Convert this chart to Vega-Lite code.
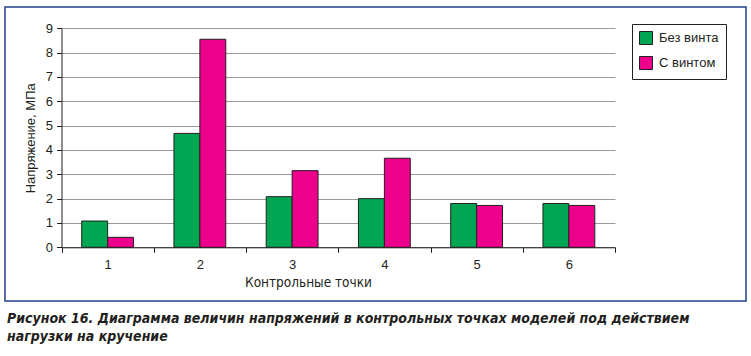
{
  "$schema": "https://vega.github.io/schema/vega-lite/v6.json",
  "autosize": {"type": "none"},
  "padding": {"left": 5, "top": 7, "right": 5, "bottom": 55},
  "width": 741,
  "height": 294,
  "background": "white",
  "title": {
    "text": ["Рисунок 16. Диаграмма величин напряжений в контрольных точках моделей под действием", "нагрузки на кручение"],
    "orient": "bottom",
    "anchor": "start",
    "frame": "group",
    "offset": 11,
    "dx": 2,
    "font": "'Liberation Sans Narrow', 'DejaVu Sans Condensed', 'Liberation Sans', sans-serif",
    "fontSize": 14,
    "fontWeight": "bold",
    "fontStyle": "italic",
    "color": "#231f20",
    "lineHeight": 18
  },
  "config": {
    "view": {"stroke": "#223f8a", "strokeWidth": 1.5},
    "font": "Liberation Sans"
  },
  "data": {
    "values": [
      {"point": "1", "series": "Без винта", "value": 1.08},
      {"point": "1", "series": "С винтом", "value": 0.41},
      {"point": "2", "series": "Без винта", "value": 4.68},
      {"point": "2", "series": "С винтом", "value": 8.55},
      {"point": "3", "series": "Без винта", "value": 2.08},
      {"point": "3", "series": "С винтом", "value": 3.15},
      {"point": "4", "series": "Без винта", "value": 2.0},
      {"point": "4", "series": "С винтом", "value": 3.66},
      {"point": "5", "series": "Без винта", "value": 1.8},
      {"point": "5", "series": "С винтом", "value": 1.72},
      {"point": "6", "series": "Без винта", "value": 1.8},
      {"point": "6", "series": "С винтом", "value": 1.72}
    ]
  },
  "mark": {"type": "bar", "stroke": "#231f20", "strokeWidth": 1},
  "encoding": {
    "x": {
      "field": "point",
      "type": "nominal",
      "scale": {"range": [56.5, 610], "paddingInner": 0, "paddingOuter": 0},
      "axis": {
        "title": "Контрольные точки",
        "titleFont": "'Liberation Sans Narrow', 'DejaVu Sans Condensed', 'Liberation Sans', sans-serif",
        "titleFontSize": 13.5,
        "titleFontWeight": "normal",
        "titleColor": "#231f20",
        "titlePadding": 4,
        "titleX": 303,
        "titleAlign": "center",
        "offset": -53.7,
        "labelAngle": 0,
        "labelFontSize": 13,
        "labelColor": "#231f20",
        "labelPadding": 6,
        "tickBand": "extent",
        "tickColor": "#231f20",
        "tickSize": 5,
        "domainColor": "#231f20",
        "grid": false
      }
    },
    "xOffset": {
      "field": "series",
      "type": "nominal",
      "scale": {"paddingInner": 0, "paddingOuter": 0.78}
    },
    "y": {
      "field": "value",
      "type": "quantitative",
      "scale": {"domain": [0, 9], "range": [240.3, 21.3], "nice": false},
      "axis": {
        "title": "Напряжение, МПа",
        "titleFont": "Liberation Sans",
        "titleFontSize": 13,
        "titleFontWeight": "normal",
        "titleColor": "#231f20",
        "titlePadding": 8,
        "offset": -56.5,
        "values": [0, 1, 2, 3, 4, 5, 6, 7, 8, 9],
        "labelFontSize": 13,
        "labelColor": "#231f20",
        "labelPadding": 4,
        "tickColor": "#231f20",
        "tickSize": 5,
        "domainColor": "#231f20",
        "grid": true,
        "gridColor": "#999999",
        "gridWidth": 1
      }
    },
    "color": {
      "field": "series",
      "type": "nominal",
      "scale": {"domain": ["Без винта", "С винтом"], "range": ["#00a651", "#ec008c"]},
      "legend": {
        "title": null,
        "orient": "none",
        "legendX": 627,
        "legendY": 17,
        "strokeColor": "#231f20",
        "fillColor": "white",
        "padding": 7,
        "symbolType": "square",
        "symbolSize": 169,
        "symbolStrokeColor": "#231f20",
        "symbolStrokeWidth": 1,
        "symbolOpacity": 1,
        "labelFontSize": 13,
        "labelColor": "#231f20",
        "labelOffset": 6,
        "rowPadding": 7
      }
    }
  }
}
